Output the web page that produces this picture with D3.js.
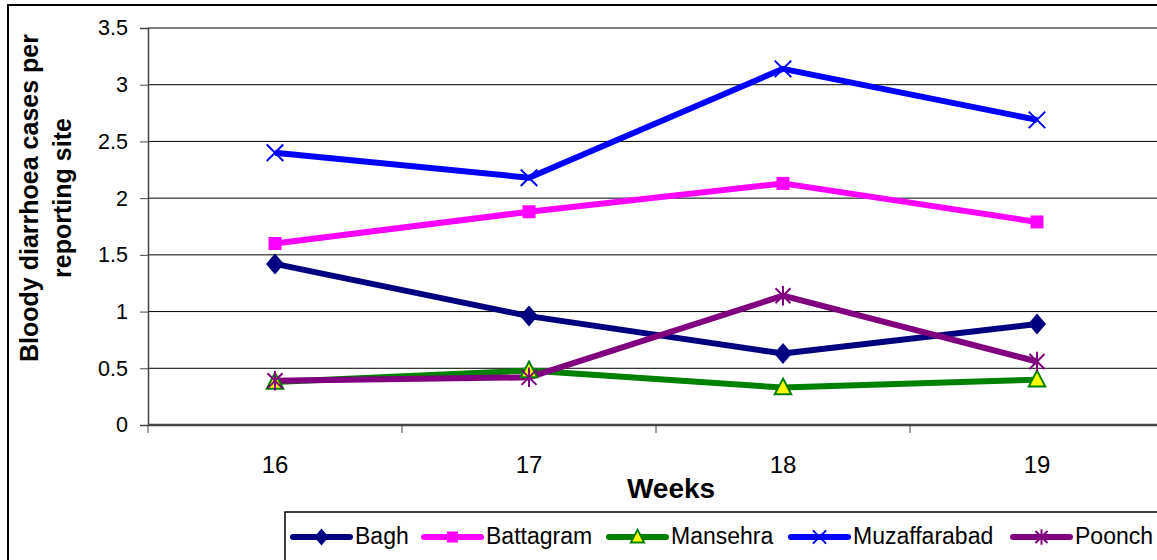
<!DOCTYPE html>
<html>
<head>
<meta charset="utf-8">
<script src="https://cdn.jsdelivr.net/npm/d3@7"></script>
<style>
  body { margin: 0; background: #fff; }
  svg { display: block; font-family: Arial, "Liberation Sans", sans-serif; }
</style>
</head>
<body>
<div class="chart"></div>
<script>
var svgWidth = 1157;
var svgHeight = 560;

// data
var weeks = ["16", "17", "18", "19"];
var seriesNames = ["Bagh", "Battagram", "Mansehra", "Muzaffarabad", "Poonch"];
var bagh = [1.42, 0.96, 0.63, 0.89];
var battagram = [1.60, 1.88, 2.13, 1.79];
var mansehra = [0.38, 0.48, 0.33, 0.40];
var muzaffarabad = [2.40, 2.18, 3.14, 2.69];
var poonch = [0.39, 0.42, 1.14, 0.56];
var yTicks = [0, 0.5, 1, 1.5, 2, 2.5, 3, 3.5];

var seriesValues = [bagh, battagram, mansehra, muzaffarabad, poonch];
var colors = ["#000080", "#ff00ff", "#008000", "#0000ff", "#800080"];
var markers = ["diamond", "square", "triangle", "cross", "star"];

var margin = { top: 28, left: 148 };
var plotWidth = 1016;   // runs past the right edge, as in the original
var plotHeight = 397;

var svg = d3.select(".chart")
  .append("svg")
  .attr("width", svgWidth)
  .attr("height", svgHeight);

// outer frame
svg.append("rect")
  .attr("x", 8).attr("y", 5)
  .attr("width", 1200).attr("height", 600)
  .attr("fill", "none")
  .attr("stroke", "#000")
  .attr("stroke-width", 2);

var chartGroup = svg.append("g")
  .attr("transform", `translate(${margin.left}, ${margin.top})`);

var xScale = d3.scaleBand()
  .domain(weeks)
  .range([0, plotWidth]);

var yScale = d3.scaleLinear()
  .domain([0, 3.5])
  .range([plotHeight, 0]);

// gridlines
chartGroup.selectAll(".grid")
  .data(yTicks.filter(d => d > 0))
  .enter()
  .append("line")
  .attr("x1", 0)
  .attr("x2", plotWidth)
  .attr("y1", d => yScale(d))
  .attr("y2", d => yScale(d))
  .attr("stroke", "#000")
  .attr("stroke-width", 1);

// y axis
var leftAxis = d3.axisLeft(yScale)
  .tickValues(yTicks)
  .tickFormat(d3.format("~g"))
  .tickSize(8)
  .tickPadding(12);

var yAxis = chartGroup.append("g").call(leftAxis);
yAxis.select(".domain").attr("stroke", "#444").attr("stroke-width", 1.5);
yAxis.selectAll(".tick line").attr("stroke", "#444");
yAxis.selectAll("text")
  .attr("font-size", "21.5px")
  .attr("fill", "#000")
  .style("font-family", "Arial, 'Liberation Sans', sans-serif");

// x axis
var bottomAxis = d3.axisBottom(xScale)
  .tickSize(0)
  .tickPadding(31);

var xAxis = chartGroup.append("g")
  .attr("transform", `translate(0, ${plotHeight})`)
  .call(bottomAxis);
xAxis.select(".domain").remove();
xAxis.selectAll("text")
  .attr("font-size", "24px")
  .attr("fill", "#000")
  .style("font-family", "Arial, 'Liberation Sans', sans-serif");

chartGroup.append("line")
  .attr("x1", 0).attr("x2", plotWidth)
  .attr("y1", plotHeight).attr("y2", plotHeight)
  .attr("stroke", "#444")
  .attr("stroke-width", 2.5);

// category boundary ticks
chartGroup.selectAll(".xtick")
  .data(weeks)
  .enter()
  .append("line")
  .attr("x1", d => xScale(d))
  .attr("x2", d => xScale(d))
  .attr("y1", plotHeight)
  .attr("y2", plotHeight + 8)
  .attr("stroke", "#444")
  .attr("stroke-width", 1);

// axis titles
chartGroup.append("text")
  .attr("x", xScale.bandwidth() * 2 + 15)
  .attr("y", plotHeight + 73)
  .attr("text-anchor", "middle")
  .attr("font-size", "28px")
  .attr("font-weight", "bold")
  .text("Weeks");

var yTitle = svg.append("text")
  .attr("transform", `translate(38, 198) rotate(-90)`)
  .attr("text-anchor", "middle")
  .attr("font-size", "25px")
  .attr("font-weight", "bold");
yTitle.append("tspan").attr("x", 0).attr("dy", 0).text("Bloody diarrhoea cases per");
yTitle.append("tspan").attr("x", 0).attr("dy", 33).text("reporting site");

// marker drawing
function drawMarker(g, type, color, size) {
  var s = size;
  if (type === "diamond") {
    g.append("path")
      .attr("d", `M0,${-s * 0.7}L${s * 0.6},0L0,${s * 0.7}L${-s * 0.6},0Z`)
      .attr("fill", color);
  } else if (type === "square") {
    g.append("rect")
      .attr("x", -s * 0.5).attr("y", -s * 0.5)
      .attr("width", s).attr("height", s)
      .attr("fill", color);
  } else if (type === "triangle") {
    g.append("path")
      .attr("d", `M0,${-s * 0.6}L${s * 0.55},${s * 0.45}L${-s * 0.55},${s * 0.45}Z`)
      .attr("fill", "#ffff00")
      .attr("stroke", color)
      .attr("stroke-width", 2);
  } else if (type === "cross") {
    g.append("path")
      .attr("d", `M${-s * 0.55},${-s * 0.55}L${s * 0.55},${s * 0.55}M${-s * 0.55},${s * 0.55}L${s * 0.55},${-s * 0.55}`)
      .attr("stroke", color)
      .attr("stroke-width", 2)
      .attr("fill", "none");
  } else if (type === "star") {
    g.append("path")
      .attr("d", `M${-s * 0.5},${-s * 0.5}L${s * 0.5},${s * 0.5}M${-s * 0.5},${s * 0.5}L${s * 0.5},${-s * 0.5}M0,${-s * 0.65}L0,${s * 0.65}`)
      .attr("stroke", color)
      .attr("stroke-width", 2)
      .attr("fill", "none");
  }
}

var line = d3.line()
  .x((d, i) => xScale(weeks[i]) + xScale.bandwidth() / 2)
  .y(d => yScale(d));

// lines and markers
seriesValues.forEach(function (vals, k) {
  chartGroup.append("path")
    .datum(vals)
    .attr("d", line)
    .attr("fill", "none")
    .attr("stroke", colors[k])
    .attr("stroke-width", 6)
    .attr("stroke-linejoin", "round");
});

seriesValues.forEach(function (vals, k) {
  vals.forEach(function (v, i) {
    var g = chartGroup.append("g")
      .attr("transform", `translate(${xScale(weeks[i]) + xScale.bandwidth() / 2}, ${yScale(v)})`);
    drawMarker(g, markers[k], colors[k], markers[k] === "square" ? 13 : 15);
  });
});

// legend
var legend = svg.append("g");
legend.append("rect")
  .attr("x", 285).attr("y", 512)
  .attr("width", 900).attr("height", 80)
  .attr("fill", "#fff")
  .attr("stroke", "#000")
  .attr("stroke-width", 1.5);

var legendX = [293, 424, 609, 791, 1013];
seriesNames.forEach(function (name, k) {
  var item = legend.append("g").attr("transform", `translate(${legendX[k]}, 537)`);
  item.append("line")
    .attr("x1", 0).attr("x2", 57)
    .attr("y1", 0).attr("y2", 0)
    .attr("stroke", colors[k])
    .attr("stroke-width", 6)
    .attr("stroke-linecap", "round");
  var mg = item.append("g").attr("transform", "translate(28.5, 0)");
  drawMarker(mg, markers[k], colors[k], markers[k] === "square" ? 11 : 12);
  item.append("text")
    .attr("x", 62)
    .attr("y", 7)
    .attr("font-size", "23px")
    .text(name);
});
</script>
</body>
</html>
